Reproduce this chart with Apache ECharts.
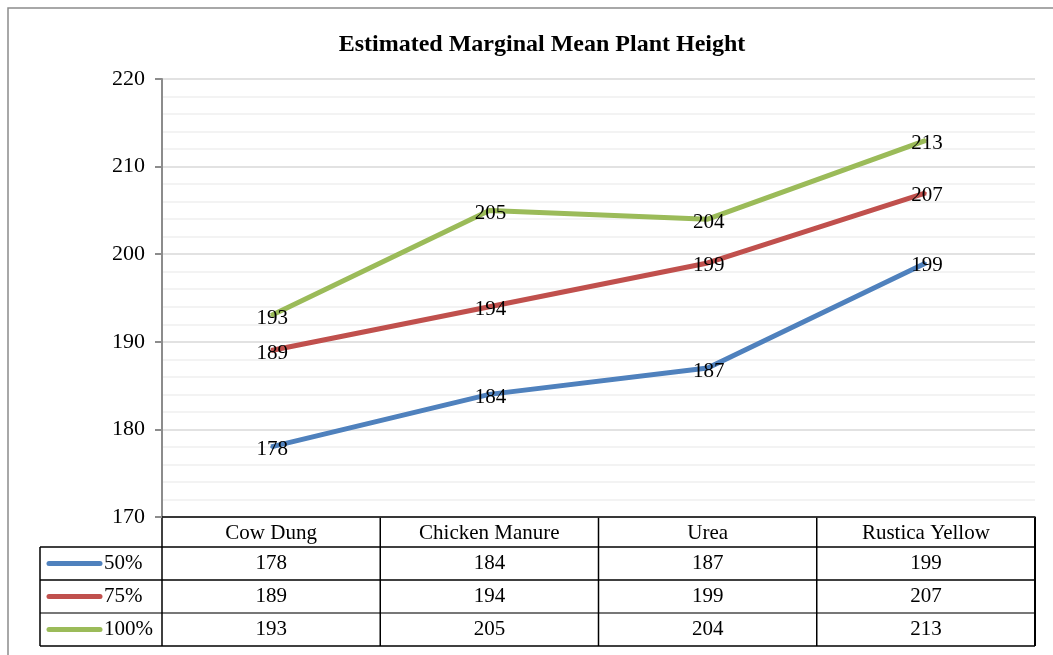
<!DOCTYPE html>
<html>
<head>
<meta charset="utf-8">
<script src="https://cdn.jsdelivr.net/npm/echarts@6/dist/echarts.min.js"></script>
<style>
  html, body { margin: 0; padding: 0; background: #fff; }
  #main { width: 1053px; height: 655px; }
</style>
</head>
<body>
<div id="main"></div>
<script>
// data
var categories = ["Cow Dung", "Chicken Manure", "Urea", "Rustica Yellow"];
var seriesNames = ["50%", "75%", "100%"];
var s50 = [178, 184, 187, 199];
var s75 = [189, 194, 199, 207];
var s100 = [193, 205, 204, 213];
var yTicks = [170, 180, 190, 200, 210, 220];

var colors = ["#4F81BD", "#C0504D", "#9BBB59"];
var font = "Liberation Serif, Times New Roman, serif";
var allData = [s50, s75, s100];

var chart = echarts.init(document.getElementById("main"));

var series = [];
for (var i = 0; i < allData.length; i++) {
  series.push({
    name: seriesNames[i],
    type: "line",
    data: allData[i],
    symbol: "circle",
    symbolSize: 2,
    lineStyle: { color: colors[i], width: 5 },
    itemStyle: { color: colors[i] },
    label: {
      show: true,
      position: "inside",
      offset: [1, 3],
      color: "#000",
      fontFamily: font,
      fontSize: 21
    },
    z: 3 + i
  });
}

var option = {
  animation: false,
  title: {
    text: "Estimated Marginal Mean Plant Height",
    left: 537,
    textAlign: "center",
    top: 28,
    textStyle: { fontFamily: font, fontSize: 24, fontWeight: "bold", color: "#000" }
  },
  grid: { left: 162, top: 79, right: 18, height: 438 },
  xAxis: {
    type: "category",
    data: categories,
    boundaryGap: true,
    axisLine: { show: true, lineStyle: { color: "#000", width: 1.5 } },
    axisTick: { show: false },
    axisLabel: { show: false },
    splitLine: { show: false }
  },
  yAxis: {
    type: "value",
    min: yTicks[0],
    max: yTicks[yTicks.length - 1],
    interval: 10,
    axisLine: { show: true, lineStyle: { color: "#8c8c8c", width: 2 } },
    axisTick: { show: true, length: 7, lineStyle: { color: "#8c8c8c", width: 2 } },
    axisLabel: { color: "#000", fontFamily: font, fontSize: 22, margin: 17 },
    splitLine: { show: true, lineStyle: { color: "#d9d9d9", width: 1.5 } },
    minorTick: { show: false, splitNumber: 5 },
    minorSplitLine: { show: true, lineStyle: { color: "#efefef", width: 1.5 } }
  },
  series: series,
  graphic: []
};
chart.setOption(option);

// data table under the plot
function buildTable() {
  var centers = categories.map(function (c) {
    return chart.convertToPixel({ xAxisIndex: 0 }, c);
  });
  var band = centers[1] - centers[0];
  var left = centers[0] - band / 2;
  var right = centers[centers.length - 1] + band / 2;
  var legLeft = 40;
  var rows = [517, 547, 580, 613, 646];
  var g = [];
  var lineStyle = { stroke: "#000", lineWidth: 1.5 };
  var tfont = "21px " + font;

  // outer frame of whole chart
  g.push({ type: "rect", shape: { x: 8, y: 8, width: 1060, height: 700 },
    style: { fill: null, stroke: "#8c8c8c", lineWidth: 1.5 }, silent: true });

  // horizontal lines
  for (var r = 1; r < rows.length; r++) {
    g.push({ type: "line", shape: { x1: legLeft, y1: rows[r], x2: right, y2: rows[r] },
      style: r === 3 ? { stroke: "#777", lineWidth: 2 } : lineStyle });
  }
  // vertical lines
  g.push({ type: "line", shape: { x1: legLeft, y1: rows[1], x2: legLeft, y2: rows[4] }, style: lineStyle });
  for (var k = 0; k <= categories.length; k++) {
    var x = left + k * band;
    g.push({ type: "line", shape: { x1: x, y1: rows[0], x2: x, y2: rows[4] },
      style: { stroke: "#000", lineWidth: k === categories.length ? 2 : 1.5 } });
  }
  // header
  for (var c = 0; c < categories.length; c++) {
    g.push({ type: "text", x: centers[c], y: (rows[0] + rows[1]) / 2 + 1,
      style: { text: categories[c], align: "center", verticalAlign: "middle",
        font: tfont, fill: "#000" } });
  }
  // rows
  for (var s = 0; s < allData.length; s++) {
    var cy = (rows[s + 1] + rows[s + 2]) / 2;
    g.push({ type: "line", shape: { x1: 49, y1: cy, x2: 100, y2: cy },
      style: { stroke: colors[s], lineWidth: 5, lineCap: "round" } });
    g.push({ type: "text", x: 104, y: cy,
      style: { text: seriesNames[s], align: "left", verticalAlign: "middle",
        font: tfont, fill: "#000" } });
    for (var j = 0; j < categories.length; j++) {
      g.push({ type: "text", x: centers[j], y: cy,
        style: { text: String(allData[s][j]), align: "center", verticalAlign: "middle",
          font: tfont, fill: "#000" } });
    }
  }
  chart.setOption({ graphic: g });
}
buildTable();
</script>
</body>
</html>
